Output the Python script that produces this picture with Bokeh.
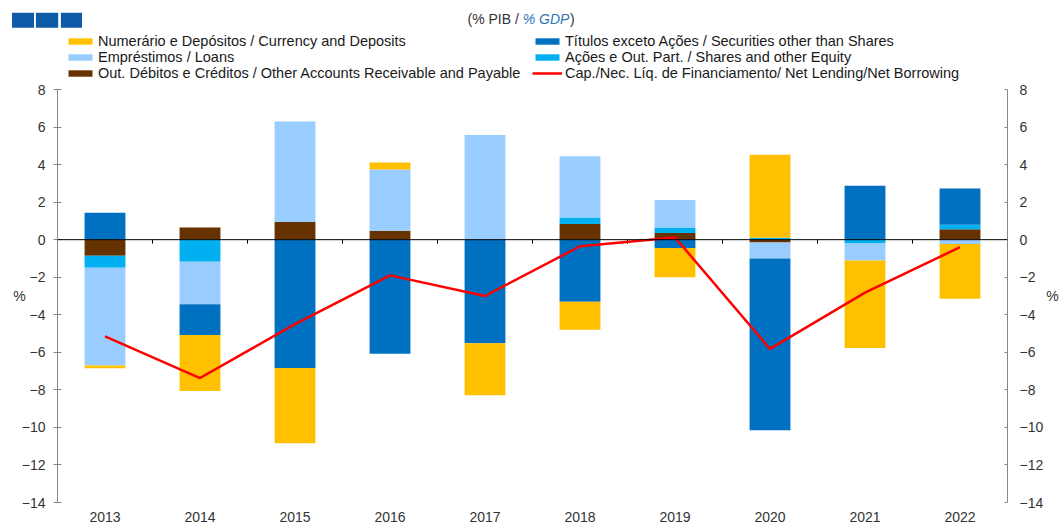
import numpy as np
from bokeh.plotting import figure
from bokeh.layouts import column
from bokeh.models import (Legend, LegendItem, LinearAxis, FixedTicker, Span, Range1d)
from bokeh.core.properties import value
from bokeh.embed import file_html
from bokeh.resources import INLINE

# ---------------- data ----------------
years = [2013, 2014, 2015, 2016, 2017, 2018, 2019, 2020, 2021, 2022]
currency = [-0.15, -2.98, -4.01, 0.37, -2.77, -1.50, -1.56, 4.43, -4.66, -2.92]
securities = [1.44, -1.64, -6.84, -6.08, -5.52, -3.30, -0.44, -9.15, 2.87, 1.93]
loans = [-5.20, -2.26, 5.36, 3.26, 5.57, 3.26, 1.47, -0.85, -0.91, -0.23]
shares = [-0.65, -1.18, 0.0, 0.0, 0.0, 0.35, 0.30, 0.10, -0.20, 0.25]
other = [-0.85, 0.65, 0.94, 0.48, 0.0, 0.83, 0.35, -0.15, 0.0, 0.55]
net_lending = [-5.15, -7.37, -4.50, -1.90, -3.00, -0.35, 0.12, -5.82, -2.82, -0.40]
y_ticks = [8, 6, 4, 2, 0, -2, -4, -6, -8, -10, -12, -14]

lbl_currency = "Numerário e Depósitos / Currency and Deposits"
lbl_securities = "Títulos exceto Ações / Securities other than Shares"
lbl_loans = "Empréstimos / Loans"
lbl_shares = "Ações e Out. Part. / Shares and other Equity"
lbl_other = "Out. Débitos e Créditos / Other Accounts Receivable and Payable"
lbl_net = "Cap./Nec. Líq. de Financiamento/ Net Lending/Net Borrowing"
title_parts = ["(% PIB / ", "% GDP", ")"]

C_CUR, C_SEC, C_LOA, C_SHA, C_OTH, C_NET = "#FFC000", "#0070C0", "#99CCFF", "#00B0F0", "#663300", "#FF0000"

FONT = "Liberation Sans"
TXT = "#333333"
AX = "#868686"
W = 1061
HEAD_H = 81

# ---------------- header (icons, title, legend) ----------------
h = figure(width=W, height=HEAD_H, output_backend="svg", toolbar_location=None,
           x_range=Range1d(0, W), y_range=Range1d(HEAD_H, 0),
           x_axis_type=None, y_axis_type=None, min_border=0,
           min_border_left=0, min_border_right=0, min_border_top=0, min_border_bottom=0)
h.frame_align = False
h.outline_line_color = None
h.grid.visible = False

h.quad(left=[11.5, 35.4, 60.4], right=[33.5, 57.7, 81.5], top=[12.3] * 3, bottom=[27.3] * 3,
       fill_color="#0D5AA7", line_color=None)
h.text(x=[467], y=[18], text=[title_parts[0]], text_font=value(FONT), text_font_size="14px",
       text_color=TXT, text_baseline="middle", text_align="left")
h.text(x=[522.2], y=[18], text=[title_parts[1]], text_font=value(FONT), text_font_size="14px",
       text_font_style="italic", text_color="#2E75B6", text_baseline="middle", text_align="left")
h.text(x=[569.5], y=[18], text=[title_parts[2]], text_font=value(FONT), text_font_size="14px",
       text_color=TXT, text_baseline="middle", text_align="left")

# legend swatches: one off-canvas sample each, only used by the legend
def swatch(col):
    return h.quad(left=[-20], right=[-10], top=[-20], bottom=[-10], fill_color=col, line_color=None)

lr = {"currency": swatch(C_CUR), "loans": swatch(C_LOA), "other": swatch(C_OTH),
      "securities": swatch(C_SEC), "shares": swatch(C_SHA),
      "net": h.line(x=[-20, -10], y=[-20, -20], line_color=C_NET, line_width=2.5)}

items = [LegendItem(label=lbl_currency, renderers=[lr["currency"]]),
         LegendItem(label=lbl_loans, renderers=[lr["loans"]]),
         LegendItem(label=lbl_other, renderers=[lr["other"]]),
         LegendItem(label=lbl_securities, renderers=[lr["securities"]]),
         LegendItem(label=lbl_shares, renderers=[lr["shares"]]),
         LegendItem(label=lbl_net, renderers=[lr["net"]])]
legend = Legend(items=items, ncols=2, orientation="vertical", location=(65, 0),
                padding=0, margin=0, spacing=0, glyph_width=30, glyph_height=8,
                label_standoff=3, label_height=16, label_width=434,
                label_text_font=FONT, label_text_font_size="14.5px",
                label_text_color="#1a1a1a", border_line_color=None,
                background_fill_alpha=0)
h.add_layout(legend)

# ---------------- main chart ----------------
p = figure(width=W, height=524 - HEAD_H, output_backend="svg", toolbar_location=None,
           x_range=Range1d(years[0] - 0.5, years[-1] + 0.5),
           y_range=Range1d(min(y_ticks), max(y_ticks)),
           min_border_left=57, min_border_right=45, min_border_top=89 - HEAD_H,
           min_border_bottom=19)
p.frame_align = False
p.outline_line_color = None
p.grid.visible = False

stack_order = [("other", other, C_OTH), ("shares", shares, C_SHA),
               ("loans", loans, C_LOA), ("securities", securities, C_SEC),
               ("currency", currency, C_CUR)]
pos = np.zeros(len(years))
neg = np.zeros(len(years))
for name, vals, col in stack_order:
    v = np.array(vals, dtype=float)
    bottom = np.where(v >= 0, pos, neg)
    top = bottom + v
    pos = np.where(v >= 0, pos + v, pos)
    neg = np.where(v < 0, neg + v, neg)
    p.vbar(x=years, bottom=bottom, top=top, width=0.43, fill_color=col, line_color=None)

p.add_layout(Span(location=0, dimension="width", line_color="#000000", line_width=1))
boundaries = [y + 0.5 for y in years]
p.ray(x=boundaries, y=[0] * len(boundaries), length=4, length_units="screen",
      angle=-np.pi / 2, line_color="#000000", line_width=1)

p.line(years, net_lending, line_color=C_NET, line_width=2.5)

xa = p.xaxis[0]
xa.ticker = FixedTicker(ticks=years)
xa.axis_line_color = None
xa.major_tick_line_color = None
xa.minor_tick_line_color = None
xa.major_label_standoff = 3
xa.major_label_text_font = FONT
xa.major_label_text_font_size = "14px"
xa.major_label_text_color = TXT

def style_y(ax, tin, tout, standoff, label_standoff):
    ax.ticker = FixedTicker(ticks=y_ticks)
    ax.axis_line_color = AX
    ax.major_tick_line_color = AX
    ax.minor_tick_line_color = None
    ax.major_tick_in = tin
    ax.major_tick_out = tout
    ax.major_label_standoff = standoff
    ax.major_label_text_font = FONT
    ax.major_label_text_font_size = "14px"
    ax.major_label_text_color = TXT
    ax.axis_label = "%"
    ax.axis_label_orientation = "horizontal"
    ax.axis_label_standoff = label_standoff
    ax.axis_label_text_font = FONT
    ax.axis_label_text_font_style = "normal"
    ax.axis_label_text_font_size = "14px"
    ax.axis_label_text_color = TXT

style_y(p.yaxis[0], 4, 4, 8, -7)
ra = LinearAxis()
style_y(ra, 3, 0, 12, 0)
p.add_layout(ra, "right")

open("out.html", "w").write(file_html(column(h, p), INLINE))
